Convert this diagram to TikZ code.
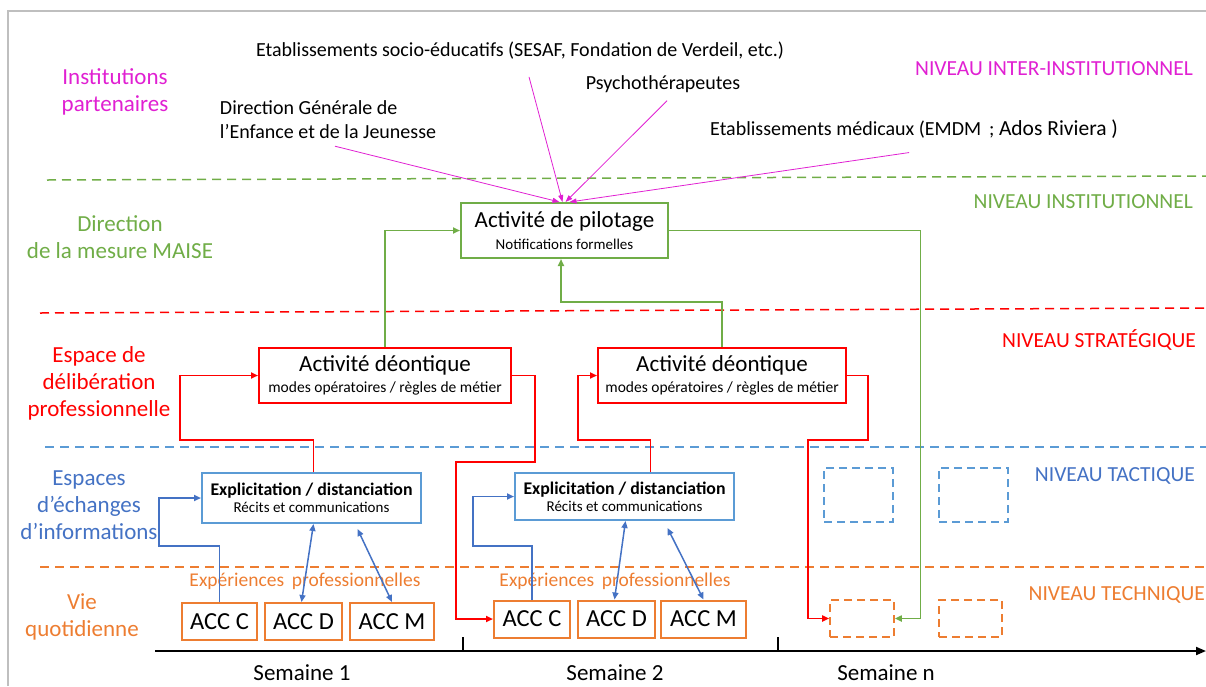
\documentclass[tikz,border=0pt]{standalone}
\usepackage{fontspec}
\setmainfont{Carlito}
\usetikzlibrary{arrows.meta}
\definecolor{cmag}{RGB}{224,32,210}
\definecolor{cgreen}{RGB}{112,173,71}
\definecolor{cred}{RGB}{255,0,0}
\definecolor{cblue}{RGB}{68,114,196}
\definecolor{cbluel}{RGB}{91,155,213}
\definecolor{corange}{RGB}{237,125,49}
\definecolor{cframe}{RGB}{191,191,191}
\begin{document}
\begin{tikzpicture}[x=1pt,y=-1pt,
  box/.style={draw, line width=2pt, inner sep=0pt, align=center, text=black},
  dbox/.style={draw, line width=1.6pt, inner sep=0pt, dash pattern=on 8pt off 5pt},
  sep/.style={line width=1.5pt, dash pattern=on 9pt off 6pt},
  arr/.style={-{Triangle[length=7pt,width=6pt]}, line width=1.7pt},
  darr/.style={{Triangle[length=7pt,width=6pt]}-{Triangle[length=7pt,width=6pt]}, line width=1.5pt},
  lab/.style={align=center, inner sep=0pt, font=\fontsize{23}{27}\selectfont},
  niv/.style={anchor=east, inner sep=0pt, font=\fontsize{21.5}{24}\selectfont},
  txt/.style={inner sep=0pt, text=black, font=\fontsize{20}{24}\selectfont},
  acc/.style={box, draw=corange, minimum height=37pt, font=\fontsize{24.5}{28}\selectfont}
]
\useasboundingbox (0,0) rectangle (1206,686);
% frame
\draw[cframe, line width=1.5pt] (8,686) -- (8,11) -- (1206,11);

% separators
\draw[sep, cgreen] (47,180) -- (1206,176);
\draw[sep, cred] (40,313) -- (1206,308);
\draw[sep, cbluel] (45,447) -- (1206,447);
\draw[sep, corange] (40,567) -- (1206,567);

% left labels
\node[lab, text=cmag] (lInst) at (115,92) {Institutions\\partenaires};
\node[lab, text=cgreen] (lDir) at (120,237) {Direction\\de la mesure MAISE};
\node[lab, text=cred] (lEsp) at (99,383) {Espace de\\délibération\\professionnelle};
\node[lab, text=cblue] (lEch) at (89,505) {Espaces\\d’échanges\\d’informations};
\node[lab, text=corange] (lVie) at (82,617) {Vie\\quotidienne};

% right labels
\node[niv, text=cmag] (nInter) at (1193,69) {NIVEAU INTER-INSTITUTIONNEL};
\node[niv, text=cgreen] (nInst) at (1193,202) {NIVEAU INSTITUTIONNEL};
\node[niv, text=cred] (nStrat) at (1196,340) {NIVEAU STRATÉGIQUE};
\node[niv, text=cblue] (nTact) at (1195,476) {NIVEAU TACTIQUE};
\node[niv, text=corange] (nTech) at (1205,595) {NIVEAU TECHNIQUE};

% partner texts
\node[txt] (es) at (520,51) {Etablissements socio-éducatifs (SESAF, Fondation de Verdeil, etc.)};
\node[txt] (psy) at (663,84) {Psychothérapeutes};
\node[txt, align=left] (dg) at (328,120) {Direction Générale de\\l’Enfance et de la Jeunesse};
\node[txt, anchor=west] (emdm) at (710,129) {Etablissements médicaux (EMDM\, ; {\fontsize{21.5}{24}\selectfont Ados Riviera )}};

% main boxes
\node[box, draw=cgreen, minimum width=207pt, minimum height=55pt] (pil) at (564.5,230.5)
  {{\fontsize{23}{25}\selectfont Activité de pilotage}\\[6pt]{\fontsize{15}{17}\selectfont Notifications formelles}};
\node[box, draw=cred, minimum width=252pt, minimum height=55pt] (d1) at (385,375.5)
  {{\fontsize{23}{25}\selectfont Activité déontique}\\[6pt]{\fontsize{15.5}{17}\selectfont modes opératoires / règles de métier}};
\node[box, draw=cred, minimum width=248pt, minimum height=55pt] (d2) at (722,375.5)
  {{\fontsize{23}{25}\selectfont Activité déontique}\\[6pt]{\fontsize{15.5}{17}\selectfont modes opératoires / règles de métier}};
\node[box, draw=cbluel, minimum width=219pt, minimum height=50pt] (e1) at (311.5,498)
  {{\fontsize{17.8}{20}\selectfont\bfseries Explicitation / distanciation}\\[3pt]{\fontsize{15}{17}\selectfont Récits et communications}};
\node[box, draw=cbluel, minimum width=219pt, minimum height=47pt] (e2) at (624.5,496.5)
  {{\fontsize{17.8}{20}\selectfont\bfseries Explicitation / distanciation}\\[3pt]{\fontsize{15}{17}\selectfont Récits et communications}};

% ACC boxes
\node[acc, minimum width=75pt] (c1) at (219.5,621.5) {ACC C};
\node[acc, minimum width=77pt] (dd1) at (303.5,621.5) {ACC D};
\node[acc, minimum width=84pt] (m1) at (392,621.5) {ACC M};
\node[acc, minimum width=76pt] (c2) at (532,619) {ACC C};
\node[acc, minimum width=77pt] (dd2) at (616.5,619) {ACC D};
\node[acc, minimum width=85pt] (m2) at (703.5,619) {ACC M};

% dashed placeholder boxes
\node[dbox, draw=cbluel, minimum width=69pt, minimum height=54pt] (tb1) at (858.5,495) {};
\node[dbox, draw=cbluel, minimum width=69pt, minimum height=54pt] (tb2) at (973.5,495) {};
\node[dbox, draw=corange, minimum width=64pt, minimum height=37pt] (ob1) at (862,618.5) {};
\node[dbox, draw=corange, minimum width=63pt, minimum height=37pt] (ob2) at (970.5,618.5) {};

% Expériences professionnelles
\node[txt, text=corange, font=\fontsize{19.5}{22}\selectfont] (xp1) at (305,581) {Expériences\, professionnelles};
\node[txt, text=corange, font=\fontsize{19.5}{22}\selectfont] (xp2) at (615,581) {Expériences\, professionnelles};

% magenta arrows
\begin{scope}[cmag, line width=0.8pt, -{Triangle[length=7pt,width=5pt]}]
\draw ([shift={(7,7)}]dg.south) -- ([xshift=-5]pil.north);
\draw ([shift={(9,17)}]es.south) -- ([xshift=-2]pil.north);
\draw ([shift={(4,8)}]psy.south) -- ([xshift=1]pil.north);
\draw ([shift={(-5,14)}]emdm.south) -- ([xshift=5]pil.north);
\end{scope}

% green connectors
\draw[arr, cgreen] (d1.north) |- (pil.west);
\coordinate (g2) at (561,302);
\draw[arr, cgreen] (d2.north) |- (g2) -- ([xshift=-3.5]pil.south);
\draw[arr, cgreen] (pil.east) -- ++(251.5,0) |- (ob1.east);

% red connectors
\coordinate (r1) at (180,440);
\draw[arr, cred] ([xshift=2]e1.north) |- (r1) |- (d1.west);
\coordinate (r2a) at (535,462);
\coordinate (r2b) at (456,462);
\draw[arr, cred] (d1.east) -| (r2a) -- (r2b) |- (c2.west);
\coordinate (r3) at (578,440);
\draw[arr, cred] ([xshift=26]e2.north) |- (r3) |- (d2.west);
\coordinate (r4a) at (868,440);
\coordinate (r4b) at (808,440);
\draw[arr, cred] (d2.east) -| (r4a) -- (r4b) |- (ob1.west);

% blue connectors
\coordinate (b1) at (159,546);
\draw[arr, cblue] (c1.north) |- (b1) |- (e1.west);
\coordinate (b2) at (473,546);
\draw[arr, cblue] (c2.north) |- (b2) |- (e2.west);
\draw[darr, cblue] ([xshift=-2]dd1.north) -- ([xshift=2]e1.south);
\draw[darr, cblue] (m1.north) -- ([shift={(46,5)}]e1.south);
\draw[darr, cblue] ([xshift=-2]dd2.north) -- ([xshift=1]e2.south);
\draw[darr, cblue] (m2.north) -- ([shift={(43,7)}]e2.south);

% timeline
\coordinate (t0) at (155,651);
\coordinate (t1) at (1206,651);
\draw[line width=1.8pt, -{Triangle[length=10pt,width=8pt]}] (t0) -- (t1);
\draw[line width=1.8pt] (463,651) -- (463,637);
\draw[line width=1.8pt] (778,651) -- (778,637);
\node[txt, font=\fontsize{23}{26}\selectfont] (s1) at (302,673) {Semaine 1};
\node[txt, font=\fontsize{23}{26}\selectfont] (s2) at (615,673) {Semaine 2};
\node[txt, font=\fontsize{23}{26}\selectfont] (sn) at (886,673) {Semaine n};
\end{tikzpicture}
\end{document}
